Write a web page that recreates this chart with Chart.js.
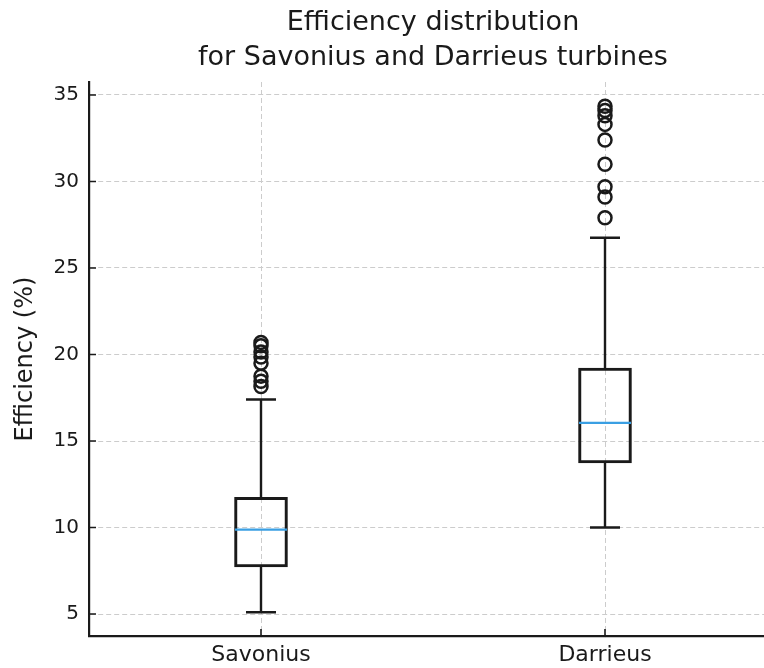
<!DOCTYPE html>
<html>
<head>
<meta charset="utf-8">
<script src="https://cdn.jsdelivr.net/npm/chart.js@4/dist/chart.umd.min.js"></script>
<style>
  html, body { margin: 0; padding: 0; background: #fff; }
  #wrap { width: 764px; height: 668px; }
</style>
</head>
<body>
<div id="wrap"><canvas id="boxChart"></canvas></div>
<script>
// Box plot data
const categories = ['Savonius', 'Darrieus'];
const whiskerLow = [5.1, 10.0];
const q1 = [7.72, 13.73];
const median = [9.88, 16.05];
const q3 = [11.75, 19.22];
const whiskerHigh = [17.4, 26.75];
const savoniusOutliers = [20.7, 20.5, 20.15, 19.85, 19.5, 18.75, 18.45, 18.15];
const darrieusOutliers = [34.35, 34.1, 33.8, 33.3, 32.4, 31.0, 29.7, 29.1, 27.9];
const yTicks = [5, 10, 15, 20, 25, 30, 35];
const titleLines = ['Efficiency distribution', 'for Savonius and Darrieus turbines'];

const FONT = "'DejaVu Sans', sans-serif";
const INK = '#1a1a1a';

// whiskers, caps, medians, inward ticks and the title
const boxExtras = {
    id: 'boxExtras',
    afterDatasetsDraw(chart) {
        const { ctx, chartArea } = chart;
        const xs = chart.scales.x;
        const ys = chart.scales.y;
        ctx.save();
        ctx.lineCap = 'butt';
        categories.forEach((c, i) => {
            const x = xs.getPixelForValue(i + 1);
            ctx.strokeStyle = INK;
            ctx.lineWidth = 2.4;
            ctx.beginPath();
            ctx.moveTo(x, ys.getPixelForValue(whiskerLow[i]));
            ctx.lineTo(x, ys.getPixelForValue(q1[i]));
            ctx.moveTo(x, ys.getPixelForValue(q3[i]));
            ctx.lineTo(x, ys.getPixelForValue(whiskerHigh[i]));
            // caps
            [whiskerLow[i], whiskerHigh[i]].forEach(v => {
                const y = ys.getPixelForValue(v);
                ctx.moveTo(x - 15, y);
                ctx.lineTo(x + 15, y);
            });
            ctx.stroke();
            // median
            const ym = ys.getPixelForValue(median[i]);
            ctx.strokeStyle = '#3a9fe3';
            ctx.beginPath();
            ctx.moveTo(x - 26, ym);
            ctx.lineTo(x + 26, ym);
            ctx.stroke();
        });
        // inward ticks
        ctx.strokeStyle = INK;
        ctx.lineWidth = 1.6;
        ctx.beginPath();
        yTicks.forEach(v => {
            const y = ys.getPixelForValue(v);
            ctx.moveTo(chartArea.left, y);
            ctx.lineTo(chartArea.left + 7, y);
        });
        categories.forEach((c, i) => {
            const x = xs.getPixelForValue(i + 1);
            ctx.moveTo(x, chartArea.bottom);
            ctx.lineTo(x, chartArea.bottom - 7);
        });
        ctx.stroke();
        // title centred over the axes
        ctx.fillStyle = INK;
        ctx.font = '27px ' + FONT;
        ctx.textAlign = 'center';
        ctx.textBaseline = 'middle';
        const cx = xs.getPixelForValue(1.5);
        ctx.fillText(titleLines[0], cx, 23);
        ctx.fillText(titleLines[1], cx, 58);
        ctx.restore();
    }
};

const ctx = document.getElementById('boxChart').getContext('2d');
new Chart(ctx, {
    type: 'bar',
    data: {
        datasets: [{
            label: 'IQR',
            data: categories.map((c, i) => ({ x: i + 1, y: [q1[i], q3[i]] })),
            backgroundColor: 'rgba(0,0,0,0)',
            borderColor: INK,
            borderWidth: 2.4,
            borderSkipped: false,
            barThickness: 53
        }, {
            type: 'scatter',
            label: 'Outliers',
            data: savoniusOutliers.map(v => ({ x: 1, y: v }))
                .concat(darrieusOutliers.map(v => ({ x: 2, y: v }))),
            pointRadius: 6.5,
            pointBorderWidth: 2.5,
            pointBorderColor: INK,
            pointBackgroundColor: 'rgba(0,0,0,0)'
        }]
    },
    options: {
        responsive: true,
        maintainAspectRatio: false,
        animation: false,
        layout: { autoPadding: false, padding: { top: 82, right: 0, left: 0, bottom: 0 } },
        plugins: {
            legend: { display: false },
            tooltip: { enabled: false },
            title: { display: false }
        },
        scales: {
            x: {
                type: 'linear',
                offset: false,
                min: 0.5,
                max: 0.5 + (764 - 89) / 344,
                afterBuildTicks: scale => {
                    scale.ticks = categories.map((c, i) => ({ value: i + 1 }));
                },
                afterFit: scale => { scale.height = 32; },
                ticks: {
                    callback: v => categories[v - 1],
                    color: INK,
                    font: { family: FONT, size: 22 },
                    padding: 6,
                    maxRotation: 0
                },
                grid: { color: '#cccccc', lineWidth: 1, tickLength: 0, offset: false },
                border: { display: true, color: INK, width: 2.2, dash: [5, 3] }
            },
            y: {
                min: 3.73,
                max: 35.75,
                afterBuildTicks: scale => {
                    scale.ticks = yTicks.map(v => ({ value: v }));
                },
                afterFit: scale => { scale.width = 89; },
                ticks: {
                    color: INK,
                    font: { family: FONT, size: 20 },
                    padding: 10
                },
                grid: { color: '#cccccc', lineWidth: 1, tickLength: 0 },
                border: { display: true, color: INK, width: 2.2, dash: [5, 3] },
                title: {
                    display: true,
                    text: 'Efficiency (%)',
                    color: INK,
                    font: { family: FONT, size: 24 },
                    padding: { top: 11, bottom: 0 }
                }
            }
        }
    },
    plugins: [boxExtras]
});
</script>
</body>
</html>
